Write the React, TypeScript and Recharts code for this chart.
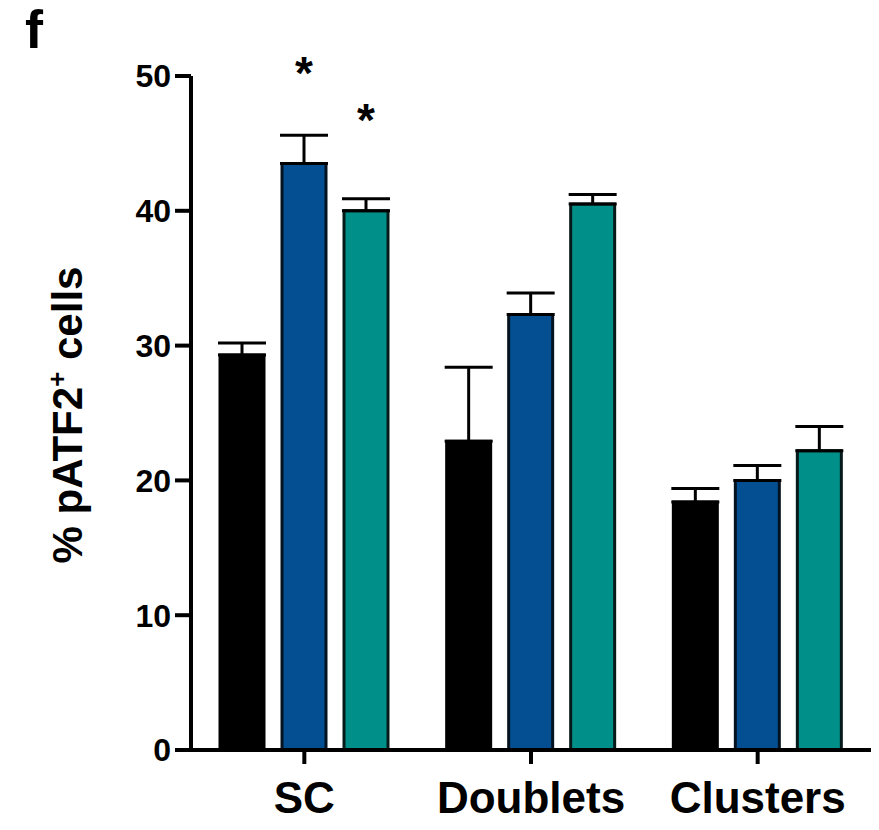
import React from 'react';
import { BarChart, Bar, XAxis, YAxis, ErrorBar, LabelList } from 'recharts';

const categories = ['SC', 'Doublets', 'Clusters'];
const ctrlValues = [29.3, 22.9, 18.4];
const ctrlErr = [0.9, 5.5, 1.0];
const blueValues = [43.5, 32.3, 20.0];
const blueErr = [2.1, 1.6, 1.1];
const tealValues = [40.0, 40.5, 22.2];
const tealErr = [0.9, 0.7, 1.8];
const blueSig = ['*', '', ''];
const tealSig = ['*', '', ''];
const yTicks = [0, 10, 20, 30, 40, 50];

const data = categories.map((c, i) => ({
  name: c,
  ctrl: ctrlValues[i],
  ctrlE: [0, ctrlErr[i]],
  blue: blueValues[i],
  blueE: [0, blueErr[i]],
  teal: tealValues[i],
  tealE: [0, tealErr[i]],
  blueS: blueSig[i],
  tealS: tealSig[i],
}));

const FONT = '"Liberation Sans", Arial, Helvetica, sans-serif';

const Star = (props: any) => {
  const { x, y, width, value } = props;
  if (!value) return null;
  return (
    <text x={x + width / 2} y={y - 75} textAnchor="middle" fontSize={46} fontWeight="bold" fontFamily={FONT} fill="#000">
      {value}
    </text>
  );
};

const Titles = () => (
  <g>
    <text x={25} y={48} fontSize={54} fontWeight="bold" fontFamily={FONT} fill="#000">f</text>
    <text transform="translate(82,415) rotate(-90)" textAnchor="middle" fontSize={42} fontWeight="bold" fontFamily={FONT} fill="#000">
      % pATF2<tspan dy={-16} fontSize={26}>+</tspan><tspan dy={16}> cells</tspan>
    </text>
  </g>
);

export default function App() {
  return (
    <div style={{ position: 'absolute', left: 0, top: 0, background: '#fff' }}>
      <BarChart
        width={879}
        height={830}
        data={data}
        margin={{ top: 76, right: 8, left: 0, bottom: 0 }}
        barSize={44}
        barGap={18}
      >
        <XAxis
          dataKey="name"
          height={80}
          axisLine={{ stroke: '#000', strokeWidth: 4 }}
          tickLine={{ stroke: '#000', strokeWidth: 4 }}
          tickSize={14}
          tickMargin={18}
          tick={{ fontSize: 44, fontWeight: 'bold', fill: '#000', fontFamily: FONT }}
        />
        <YAxis
          width={191}
          domain={[0, 50]}
          ticks={yTicks}
          interval={0}
          axisLine={{ stroke: '#000', strokeWidth: 4 }}
          tickLine={{ stroke: '#000', strokeWidth: 4 }}
          tickSize={16}
          tickMargin={4}
          tick={{ fontSize: 32, fontWeight: 'bold', fill: '#000', fontFamily: FONT }}
          label={{ content: () => <Titles /> }}
        />
        <Bar dataKey="ctrl" fill="#000" stroke="#000" strokeWidth={3} isAnimationActive={false}>
          <ErrorBar dataKey="ctrlE" width={24} stroke="#000" strokeWidth={3} isAnimationActive={false} />
        </Bar>
        <Bar dataKey="blue" fill="#034f92" stroke="#05121f" strokeWidth={3} isAnimationActive={false}>
          <ErrorBar dataKey="blueE" width={24} stroke="#000" strokeWidth={3} isAnimationActive={false} />
          <LabelList dataKey="blueS" content={Star} />
        </Bar>
        <Bar dataKey="teal" fill="#009089" stroke="#061a1a" strokeWidth={3} isAnimationActive={false}>
          <ErrorBar dataKey="tealE" width={24} stroke="#000" strokeWidth={3} isAnimationActive={false} />
          <LabelList dataKey="tealS" content={Star} />
        </Bar>
      </BarChart>
    </div>
  );
}
